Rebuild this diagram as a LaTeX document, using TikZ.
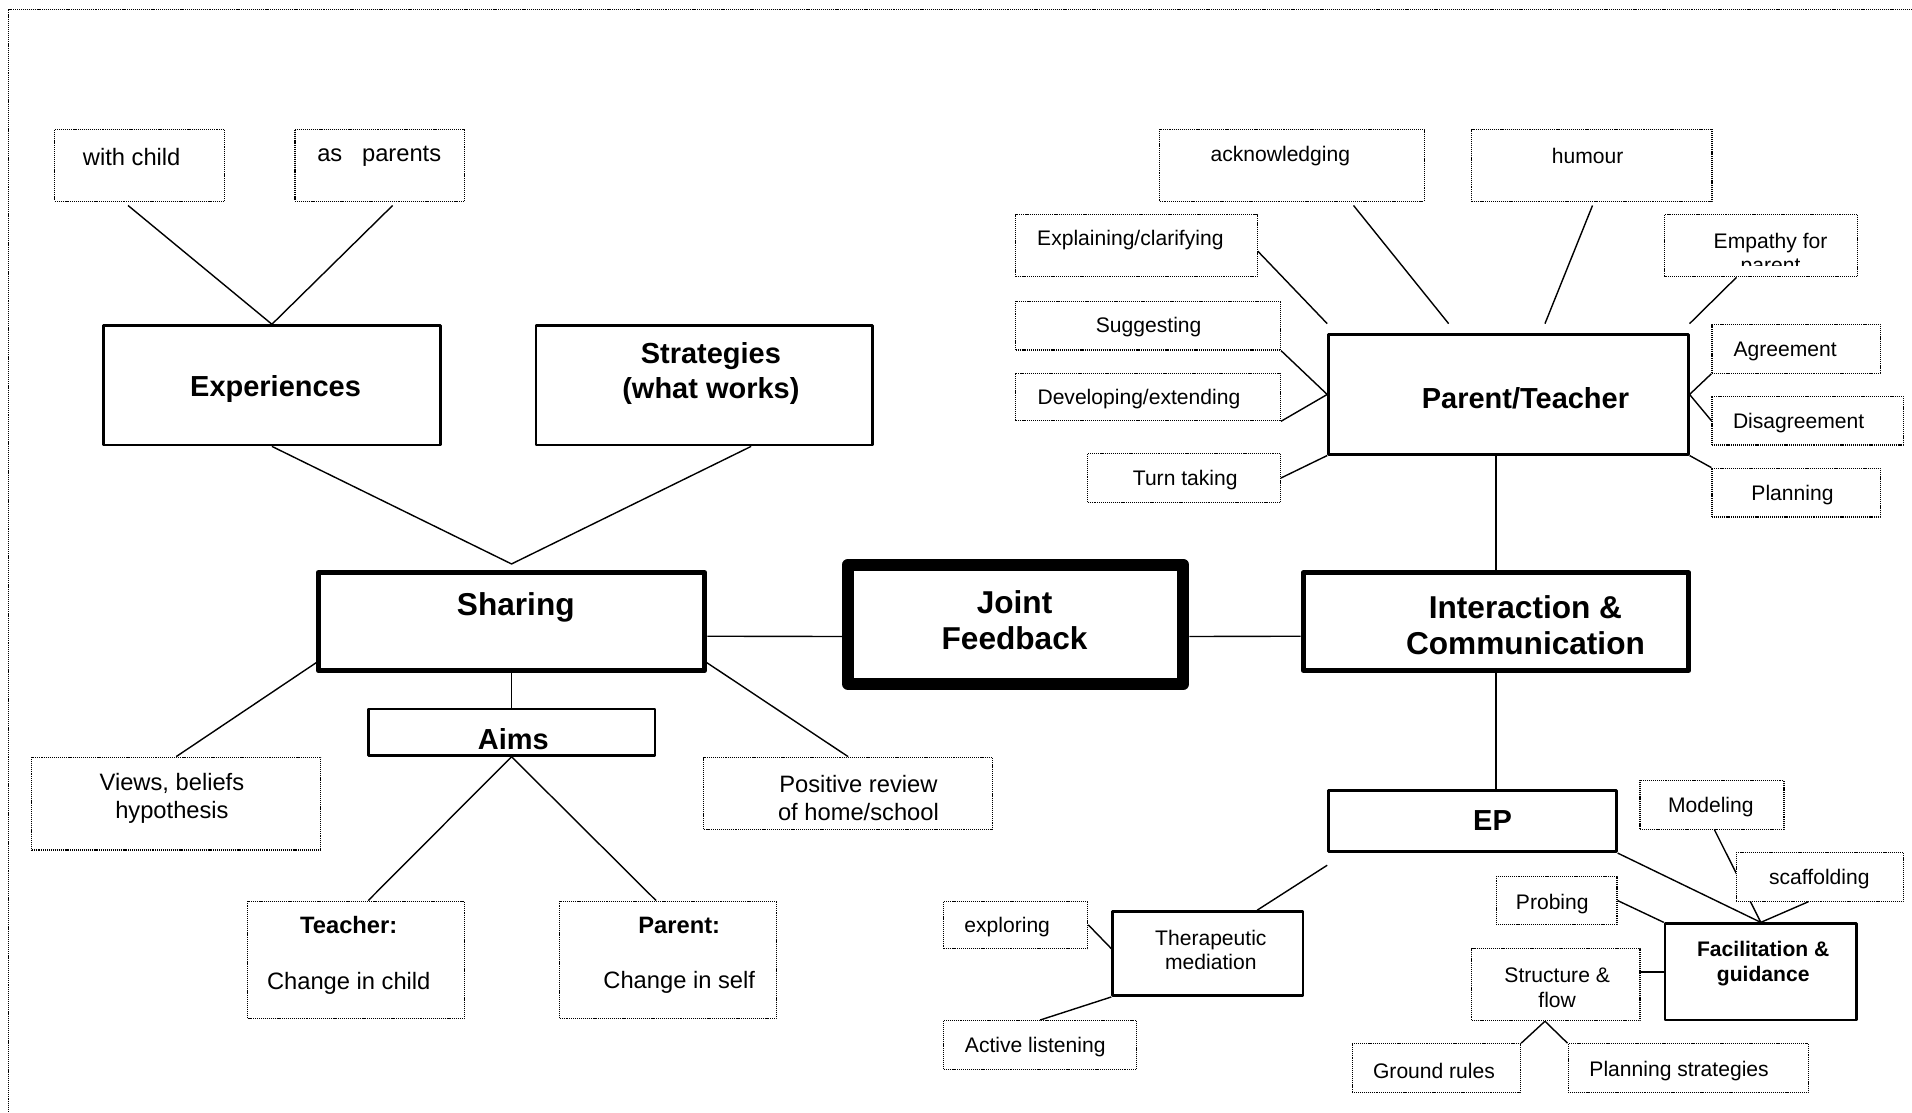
\documentclass[tikz,border=0pt]{standalone}
\usepackage{fontspec}
\setmainfont{Liberation Sans}
\usetikzlibrary{backgrounds}
\tikzset{
  dbox/.style={draw, dash pattern=on 0.6pt off 0.5pt, line width=0.7pt, fill=white, inner sep=0pt},
  sbox/.style={draw, line width=1.5pt, fill=white, inner sep=0pt},
  mbox/.style={draw, line width=3pt, fill=white, inner sep=0pt},
  tbox/.style={draw, line width=6.8pt, fill=white, inner sep=0pt},
  sz/.style 2 args={minimum width=#1*0.0244cm, minimum height=#2*0.0244cm},
  link/.style={line width=0.8pt},
  txt/.style={font=\fontsize{13.5}{15.9}\selectfont, align=center, inner sep=0pt, yshift=-1pt},
  txts/.style={font=\fontsize{12}{14}\selectfont, align=center, inner sep=0pt, yshift=-1.4pt},
  txtb/.style={font=\fontsize{12}{14}\selectfont\bfseries, align=center, inner sep=0pt, yshift=-1.4pt},
  hd/.style={font=\fontsize{16.5}{20}\selectfont\bfseries, align=center, inner sep=0pt, yshift=-1.4pt},
  hdb/.style={font=\fontsize{18}{20.5}\selectfont\bfseries, align=center, inner sep=0pt, yshift=-1.4pt},
}
\begin{document}
\begin{tikzpicture}[x=0.0244cm, y=-0.0244cm, line join=round]
\useasboundingbox (0,0) rectangle (1568,912);
%page frame
\draw[dash pattern=on 0.6pt off 0.5pt, line width=0.7pt] (7,912) -- (7,8) -- (1568,8);
%dotted boxes
\foreach \n/\x/\y/\w/\h in {withch/114.5/135.5/139/59, aspar/311.5/135.5/139/59,
  views/144.5/659/237/76, posrev/695.5/650.5/237/59,
  teach/292/787/178/96, paren/548/787/178/96,
  ackn/1059.5/135.5/217/59, humour/1305.5/135.5/197/59,
  explain/932/201.5/198/51, empathy/1444/201.5/158/51,
  suggest/941.5/267/217/40, develop/941.5/325.5/217/39,
  turn/971/392/158/40, agree/1473/286/138/40,
  disagree/1482.5/345/157/40, plan/1473/404/138/40,
  model/1404/660/118/40, scaffold/1492.5/719/137/40,
  probe/1276.5/738.5/99/39, struct/1276/807.5/138/59,
  ground/1178/876/138/40, planstr/1384.5/876/197/40,
  explore/833/758.5/118/39, active/853/857/158/40}
  \node[dbox, sz={\w}{\h}] (\n) at (\x,\y) {};
%solid boxes
\foreach \n/\x/\y/\w/\h in {exper/223/316/276/98, strat/577.5/316/276/98,
  partea/1237/323.5/295/98, aims/419.5/600.5/235/38, ep/1207.5/673.5/236/50,
  therap/990.5/782/156/69, facil/1444/797/157/79}
  \node[sbox, sz={\w}{\h}] (\n) at (\x,\y) {};
\node[mbox, sz={316.7}{80.2}] (share) at (419.5,509.75) {};
\node[mbox, sz={316}{80}] (inter) at (1226.8,509.75) {};
\node[tbox, sz={275}{98}] (joint) at (833,512) {};
%texts
\node[txt] (withch-t) at (108,127) {with child};
\node[txt] (aspar-t) at (311,127) {as~~~parents};
\node[hd] (exper-t) at (226,317) {Experiences};
\node[hd] (strat-t) at (583,304) {Strategies\\(what works)};
\node[hdb] (share-t) at (423,496) {Sharing};
\node[hdb] (joint-t) at (832,507) {Joint\\Feedback};
\node[hdb] (inter-t) at (1251,511) {Interaction \&\\Communication};
\node[hd] (aims-t) at (421,604) {Aims};
\node[txt] (views-t) at (141,653) {Views, beliefs\\hypothesis};
\node[txt] (posrev-t) at (704,653) {Positive review\\of home/school};
\node[txt] (teach-t) at (286,782) {\textbf{Teacher:}\\[15.9pt]Change in child};
\node[txt] (paren-t) at (557,782) {\textbf{Parent:}\\[15.9pt]Change in self};
\node[hd] (partea-t) at (1251,325) {Parent/Teacher};
\node[txts] (ackn-t) at (1050,126) {acknowledging};
\node[txts] (humour-t) at (1302,126) {humour};
\node[txts] (explain-t) at (927,195) {Explaining/clarifying};
\begin{scope}
\clip (empathy.north west) rectangle ([shift={(0,-10)}]empathy.south east);
\node[txts] (empathy-t) at (1452,207) {Empathy for\\parent};
\end{scope}
\node[txts] (suggest-t) at (942,266) {Suggesting};
\node[txts] (develop-t) at (934,325) {Developing/extending};
\node[txts] (turn-t) at (972,392) {Turn taking};
\node[txts] (agree-t) at (1464,286) {Agreement};
\node[txts] (disagree-t) at (1475,345) {Disagreement};
\node[txts] (plan-t) at (1470,404) {Planning};
\node[hd] (ep-t) at (1224,671) {EP};
\node[txts] (therap-t) at (993,777) {Therapeutic\\mediation};
\node[txts] (explore-t) at (826,758) {exploring};
\node[txts] (active-t) at (849,857) {Active listening};
\node[txtb] (facil-t) at (1446,788) {Facilitation \&\\guidance};
\node[txts] (model-t) at (1403,660) {Modeling};
\node[txts] (scaffold-t) at (1492,719) {scaffolding};
\node[txts] (probe-t) at (1273,739) {Probing};
\node[txts] (struct-t) at (1277,808) {Structure \&\\flow};
\node[txts] (ground-t) at (1176,876) {Ground rules};
\node[txts] (planstr-t) at (1377,876) {Planning strategies};
%connectors
\begin{scope}[on background layer]
\fill[white] (0,0) rectangle (1568,912);
\draw[link] ([shift={(-9.5,3)}]withch.south) -- (exper.north) -- ([shift={(10.5,3)}]aspar.south);
\draw[link] (exper.south) -- ([shift={(0,-5)}]share.north) -- ([shift={(38.5,0)}]strat.south);
\draw[link] ([shift={(0,12)}]share.east) -- ([shift={(0,10)}]joint.west);
\draw[link] ([shift={(0,10)}]joint.east) -- ([shift={(0,12)}]inter.west);
\draw[link] ([shift={(0,-9)}]share.south) -- (aims.north);
\draw[link] ([shift={(1,-9)}]share.south west) -- (views.north);
\draw[link] ([shift={(-1,-9)}]share.south east) -- (posrev.north);
\draw[link] ([shift={(10,0)}]teach.north) -- (aims.south) -- ([shift={(-10,0)}]paren.north);
\draw[link] ([shift={(0,4.5)}]explain.east) -- ([shift={(0,-8)}]partea.north west);
\draw[link] ([shift={(50.5,3)}]ackn.south) -- ([shift={(-49,-8)}]partea.north);
\draw[link] ([shift={(0.5,3)}]humour.south) -- ([shift={(30,-8)}]partea.north);
\draw[link] ([shift={(-20,0)}]empathy.south) -- ([shift={(0,-8)}]partea.north east);
\draw[link] (suggest.south east) -- (partea.west) -- (develop.south east);
\draw[link] (turn.east) -- (partea.south west);
\draw[link] (agree.south west) -- (partea.east) -- (disagree.west);
\draw[link] (plan.north west) -- (partea.south east);
\draw[link] (partea.south -| inter.north) -- (inter.north);
\draw[link] (inter.south) -- (inter.south |- ep.north);
\draw[link] ([shift={(0,10)}]ep.south west) -- ([shift={(40.5,0)}]therap.north);
\draw[link] (explore.east) -- ([shift={(0,-4)}]therap.west);
\draw[link] (active.north) -- (therap.south west);
\draw[link] (ep.south east) -- (facil.north);
\draw[link] ([shift={(2,0)}]model.south) -- (facil.north);
\draw[link] ([shift={(-9.5,0)}]scaffold.south) -- (facil.north);
\draw[link] (probe.east) -- (facil.north west);
\draw[link] (facil.west -| struct.east) -- (facil.west);
\draw[link] (ground.north east) -- ([shift={(-9,0)}]struct.south) -- (planstr.north west);
\end{scope}
\end{tikzpicture}
\end{document}
